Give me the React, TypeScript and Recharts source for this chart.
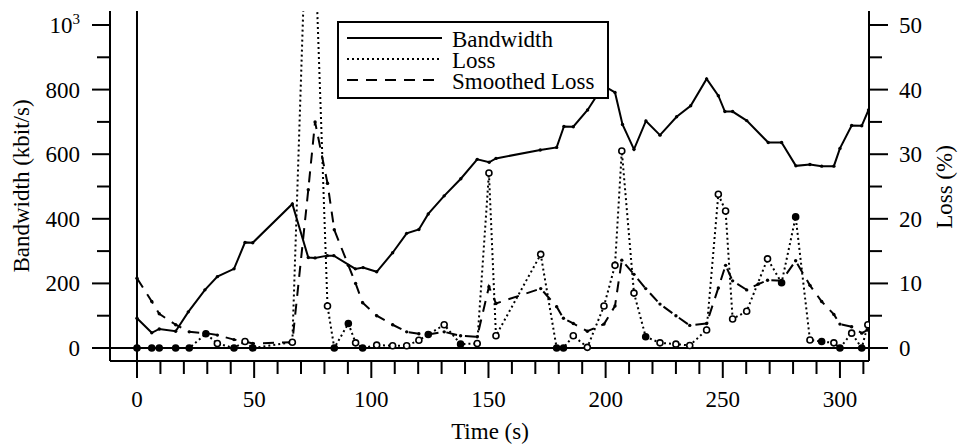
import React from "react";
import {
  ComposedChart,
  Line,
  XAxis,
  YAxis,
  ReferenceLine,
  Customized,
} from "recharts";

const FONT = "'Liberation Serif', 'Times New Roman', serif";

// bandwidth samples (s, kbit/s)
const bwTime = [
  0, 6.3, 9.5, 16.5, 21.9, 29, 34.3, 41.4, 46.1, 49.4, 66.3, 73.1, 76, 81.2, 84,
  93.2, 96.5, 102.3, 109.1, 115.1, 120.3, 124.3, 131.1, 138.2, 145.2, 150.3, 153.2,
  172.1, 179.1, 182.2, 186.2, 192.3, 199, 204, 207.2, 212.1, 217.2, 223.2, 230.3,
  236.3, 243.1, 248.1, 250.9, 254.2, 260.2, 269.4, 275.1, 281.2, 287.2, 292.2,
  297.4, 300, 305, 309.3, 312.2,
];
const bwKbps = [
  92, 47, 59, 52, 112, 180, 221, 245, 327, 326, 446, 280, 279, 286, 286,
  245, 249, 236, 295, 355, 367, 415, 471, 524, 584, 575, 587,
  613, 621, 686, 685, 737, 812, 791, 692, 615, 703, 659, 716,
  750, 833, 781, 732, 732, 704, 636, 636, 564, 568, 563,
  563, 618, 689, 688, 737,
];

// loss samples (s, %)
const lossTime = [
  0, 6.3, 9.5, 16.5, 22.3, 29.4, 34.3, 41.4, 46.1, 49.4, 66.3, 73.1, 76, 81.3,
  84.2, 90.2, 93.3, 96.3, 102.3, 109.1, 115.1, 120.3, 124.3, 131.1, 138.1, 145.2,
  150.2, 153.2, 172.3, 179.1, 182, 186.2, 192.2, 199.3, 204, 206.9, 212.1, 217.1,
  223.2, 230, 235.9, 243.1, 248.1, 251.2, 254.2, 260.2, 269.1, 275.1, 281.1,
  287.2, 292.2, 297.4, 300, 305, 309.3, 311.9,
];
const lossPct = [
  0, 0, 0, 0, 0, 2.2, 0.7, 0, 1.0, 0, 0.9, 76, 62, 6.5,
  0, 3.8, 0.8, 0, 0.45, 0.35, 0.35, 1.2, 2.1, 3.6, 0.6, 0.7,
  27.1, 1.9, 14.5, 0, 0, 1.9, 0.1, 6.5, 12.8, 30.5, 8.5, 1.75,
  0.8, 0.6, 0.4, 2.8, 23.8, 21.2, 4.5, 5.7, 13.8, 10.1, 20.3,
  1.25, 1.0, 0.8, 0, 2.3, 0, 3.6,
];
// samples drawn with a solid marker besides the zero ones
const lossSolidAt = [29.4, 90.2, 124.3, 138.1, 217.1, 275.1, 281.1, 292.2];

// smoothed loss (s, %)
const smoothTime = [
  0, 6.3, 9.5, 16.5, 22.3, 29.4, 34.3, 41.4, 46.1, 49.4, 66.3, 73.1, 76, 81.3,
  84.2, 90.2, 93.3, 96.3, 102.3, 109.1, 115.1, 120.3, 124.3, 131.1, 138.1, 145.2,
  150.2, 153.2, 172.3, 179.1, 182, 186.2, 192.2, 199.3, 204, 206.9, 212.1, 217.1,
  223.2, 230, 235.9, 243.1, 248.1, 251.2, 254.2, 260.2, 265.2, 269.1, 275.1,
  281.1, 287.2, 292.2, 297.4, 300, 305, 309.3, 311.9,
];
const smoothPct = [
  10.8, 7.2, 5.3, 3.6, 2.5, 2.3, 2.0, 1.3, 1.0, 0.7, 0.9, 24.5, 35, 25.5,
  18.3, 12.8, 10, 7, 5, 3.6, 2.5, 2.2, 2.1, 2.5, 1.9, 1.75,
  9.5, 6.9, 9.2, 6.4, 4.6, 3.8, 2.6, 3.7, 6.5, 13.6, 11.4, 9.2,
  6.8, 5.0, 3.5, 3.8, 9.3, 12.8, 10.4, 9.0, 9.9, 10.5, 10.4,
  13.5, 9.7, 7.2, 5.2, 3.7, 3.3, 2.3, 2.8,
];

const timeTicks = Array.from({ length: 32 }, (_, i) => i * 10);
const bwTicks = Array.from({ length: 11 }, (_, i) => i * 100);
const lossTicks = Array.from({ length: 11 }, (_, i) => i * 5);

const bandwidth = bwTime.map((t, i) => ({ t, v: bwKbps[i] }));
const loss = lossTime.map((t, i) => ({ t, v: lossPct[i] }));
const smoothed = smoothTime.map((t, i) => ({ t, v: smoothPct[i] }));

function TimeTick({ x, y, payload }: any) {
  const v = payload.value;
  const major = v % 50 === 0;
  return (
    <g>
      <line x1={x} y1={y} x2={x} y2={y + (major ? 17 : 13)} stroke="#000" strokeWidth={2} />
      {major && (
        <text x={x} y={y + 46} textAnchor="middle" fontFamily={FONT} fontSize={23} fill="#000">
          {v}
        </text>
      )}
    </g>
  );
}

function BwTick({ x, y, payload }: any) {
  const v = payload.value;
  const major = v % 200 === 0 || v === 1000;
  return (
    <g>
      <line x1={x - (major ? 18 : 13)} y1={y} x2={x} y2={y} stroke="#000" strokeWidth={2} />
      {major && (
        <text x={x - 30} y={y + 8} textAnchor="end" fontFamily={FONT} fontSize={23} fill="#000">
          {v === 1000 ? (
            <>
              10
              <tspan dy={-9} fontSize={15}>3</tspan>
            </>
          ) : (
            v
          )}
        </text>
      )}
    </g>
  );
}

function LossTick({ x, y, payload }: any) {
  const v = payload.value;
  const major = v % 10 === 0;
  return (
    <g>
      <line x1={x} y1={y} x2={x + (major ? 19 : 13)} y2={y} stroke="#000" strokeWidth={2} />
      {major && (
        <text x={x + 30} y={y + 8} textAnchor="start" fontFamily={FONT} fontSize={23} fill="#000">
          {v}
        </text>
      )}
    </g>
  );
}

const smallDot = (p: any) => (
  <circle key={p.index} cx={p.cx} cy={p.cy} r={1.7} fill="#000" />
);

const lossDot = (p: any) => {
  const solid = p.payload.v === 0 || lossSolidAt.includes(p.payload.t);
  return (
    <circle
      key={p.index}
      cx={p.cx}
      cy={p.cy}
      r={3}
      fill={solid ? "#000" : "#fff"}
      stroke="#000"
      strokeWidth={1.6}
    />
  );
};

function Titles() {
  return (
    <g fontFamily={FONT} fontSize={23} fill="#000">
      <text x={490} y={439} textAnchor="middle">Time (s)</text>
      <text x={29} y={186} textAnchor="middle" transform="rotate(-90 29 186)">
        Bandwidth (kbit/s)
      </text>
      <text x={952} y={187} textAnchor="middle" transform="rotate(-90 952 187)">
        Loss (%)
      </text>
    </g>
  );
}

function LegendBox() {
  const rows = [
    { name: "Bandwidth", dash: undefined },
    { name: "Loss", dash: "2 3" },
    { name: "Smoothed Loss", dash: "11 8" },
  ];
  return (
    <svg
      width={272}
      height={78}
      style={{ position: "absolute", left: 337, top: 21, background: "#fff" }}
    >
      <rect x={1} y={1} width={270} height={76} fill="#fff" stroke="#000" strokeWidth={2} />
      {rows.map((r, i) => (
        <g key={r.name}>
          <line
            x1={10}
            x2={105}
            y1={17 + i * 21}
            y2={17 + i * 21}
            stroke="#000"
            strokeWidth={2}
            strokeDasharray={r.dash}
          />
          <text x={115} y={25.5 + i * 21.2} fontFamily={FONT} fontSize={23} fill="#000">
            {r.name}
          </text>
        </g>
      ))}
    </svg>
  );
}

export default function App() {
  return (
    <div style={{ position: "absolute", left: 0, top: 0, width: 959, height: 444, background: "#fff" }}>
      <ComposedChart
        width={959}
        height={444}
        margin={{ top: 11, right: 0, bottom: 0, left: 0 }}
      >
        <XAxis
          dataKey="t"
          type="number"
          domain={[-11.52, 312.4]}
          allowDataOverflow
          ticks={timeTicks}
          interval={0}
          height={83}
          tickSize={0}
          tickMargin={0}
          tickLine={false}
          tick={<TimeTick />}
          axisLine={{ stroke: "#000", strokeWidth: 2 }}
        />
        <XAxis
          xAxisId="top"
          orientation="top"
          type="number"
          domain={[-11.52, 312.4]}
          height={0}
          tick={false}
          tickLine={false}
          axisLine={{ stroke: "#000", strokeWidth: 2 }}
        />
        <YAxis
          yAxisId="bw"
          type="number"
          domain={[-40.2, 1043.3]}
          allowDataOverflow
          ticks={bwTicks}
          interval={0}
          width={110}
          tickSize={0}
          tickMargin={0}
          tickLine={false}
          tick={<BwTick />}
          axisLine={{ stroke: "#000", strokeWidth: 2 }}
        />
        <YAxis
          yAxisId="loss"
          orientation="right"
          type="number"
          domain={[-2.01, 52.17]}
          allowDataOverflow
          ticks={lossTicks}
          interval={0}
          width={90}
          tickSize={0}
          tickMargin={0}
          tickLine={false}
          tick={<LossTick />}
          axisLine={{ stroke: "#000", strokeWidth: 2 }}
        />
        <ReferenceLine x={0} yAxisId="bw" stroke="#000" strokeWidth={2} />
        <ReferenceLine y={0} yAxisId="bw" stroke="#000" strokeWidth={2} />
        <Line
          yAxisId="bw"
          data={bandwidth}
          dataKey="v"
          type="linear"
          stroke="#000"
          strokeWidth={2}
          dot={smallDot}
          isAnimationActive={false}
        />
        <Line
          yAxisId="loss"
          data={smoothed}
          dataKey="v"
          type="linear"
          stroke="#000"
          strokeWidth={2}
          strokeDasharray="11 8"
          dot={smallDot}
          isAnimationActive={false}
        />
        <Line
          yAxisId="loss"
          data={loss}
          dataKey="v"
          type="linear"
          stroke="#000"
          strokeWidth={2}
          strokeDasharray="2 3"
          dot={lossDot}
          isAnimationActive={false}
        />
        <Customized component={Titles} />
      </ComposedChart>
      <LegendBox />
    </div>
  );
}
